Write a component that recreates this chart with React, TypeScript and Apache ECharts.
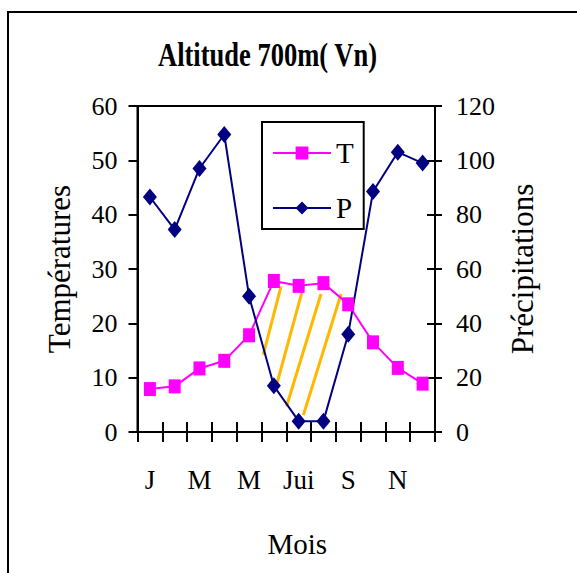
import React, { useEffect, useRef } from "react";
import * as echarts from "echarts";

const months = ["J", "F", "M", "A", "M", "J", "Jui", "A", "S", "O", "N", "D"];
const temperatures = [7.9, 8.4, 11.7, 13.1, 17.8, 27.8, 26.9, 27.4, 23.5, 16.5, 11.8, 8.9];
const precipitations = [86.5, 74.5, 97, 109.5, 50, 17, 4, 4, 36, 88.5, 103, 99];
// dry-season hatching: segments in (month position 0..12, temperature) coordinates
const hatchSegments = [
  [[5.07, 14.2], [5.79, 26.8]],
  [[5.54, 7.5], [6.69, 26.7]],
  [[6.01, 4.7], [7.4, 25.4]],
  [[6.69, 3.1], [8.21, 25.4]],
];
const titleText = "Altitude 700m( Vn)";

const FONT = "Liberation Serif";

export default function App() {
  const ref = useRef<HTMLDivElement>(null);
  useEffect(() => {
    if (!ref.current) return;
    const chart = echarts.init(ref.current, null, { renderer: "svg" });
    const axisLineStyle = { color: "#000", width: 2 };
    const option: any = {
      animation: false,
      backgroundColor: "#fff",
      textStyle: { fontFamily: FONT, color: "#000" },
      graphic: [
        {
          type: "rect",
          shape: { x: 8, y: 12, width: 600, height: 600 },
          style: { fill: "none", stroke: "#000", lineWidth: 2 },
          z: -1,
          silent: true,
        },
        {
          type: "text",
          x: 158,
          y: 38,
          scaleX: 0.78,
          scaleY: 1,
          style: {
            text: titleText,
            font: "bold 34px " + FONT,
            fill: "#000",
            textAlign: "left",
            verticalAlign: "top",
          },
          silent: true,
        },
      ],
      legend: {
        data: ["T", "P"],
        orient: "vertical",
        left: 262,
        top: 122,
        padding: [16, 10, 6, 10],
        itemWidth: 58,
        itemHeight: 16,
        itemGap: 25,
        borderColor: "#000",
        borderWidth: 2,
        textStyle: { fontFamily: FONT, fontSize: 29, color: "#000", lineHeight: 30 },
      },
      grid: {
        left: 137.5,
        right: 142,
        top: 106,
        bottom: 141,
        containLabel: false,
        show: true,
        borderColor: "#000",
        borderWidth: 2,
        backgroundColor: "transparent",
      },
      xAxis: [
        {
          type: "category",
          data: months,
          boundaryGap: true,
          name: "Mois",
          nameLocation: "middle",
          nameGap: 97,
          nameTextStyle: { fontFamily: FONT, fontSize: 29, color: "#000", padding: [0, 0, 0, 22] },
          axisLine: { lineStyle: axisLineStyle },
          axisTick: { show: true, interval: 0, length: 10, lineStyle: { color: "#000", width: 2 } },
          axisLabel: { interval: 1, margin: 34, fontFamily: FONT, fontSize: 27, color: "#000" },
          splitLine: { show: false },
        },
        {
          type: "category",
          data: months,
          boundaryGap: true,
          position: "bottom",
          axisLine: { show: false },
          axisTick: { show: true, inside: true, interval: 0, length: 10, lineStyle: { color: "#000", width: 2 } },
          axisLabel: { show: false },
          splitLine: { show: false },
        },
        {
          type: "value",
          min: 0,
          max: 12,
          show: false,
          splitLine: { show: false },
        },
      ],
      yAxis: [
        {
          type: "value",
          min: 0,
          max: 60,
          interval: 10,
          position: "left",
          name: "Températures",
          nameLocation: "middle",
          nameRotate: 90,
          nameGap: 63,
          nameTextStyle: { fontFamily: FONT, fontSize: 31, color: "#000" },
          axisLine: { show: true, lineStyle: axisLineStyle },
          axisTick: { show: true, length: 9, lineStyle: { color: "#000", width: 2 } },
          axisLabel: { margin: 20, fontFamily: FONT, fontSize: 26, color: "#000" },
          splitLine: { show: false },
        },
        {
          type: "value",
          min: 0,
          max: 120,
          interval: 20,
          position: "right",
          name: "Précipitations",
          nameLocation: "middle",
          nameRotate: 90,
          nameGap: 72,
          nameTextStyle: { fontFamily: FONT, fontSize: 31, color: "#000" },
          axisLine: { show: true, lineStyle: axisLineStyle },
          axisTick: { show: true, length: 7, lineStyle: { color: "#000", width: 2 } },
          axisLabel: { margin: 21, fontFamily: FONT, fontSize: 26, color: "#000" },
          splitLine: { show: false },
        },
        {
          type: "value",
          min: 0,
          max: 120,
          interval: 20,
          position: "right",
          axisLine: { show: false },
          axisTick: { show: true, inside: true, length: 8, lineStyle: { color: "#000", width: 2 } },
          axisLabel: { show: false },
          splitLine: { show: false },
        },
      ],
      series: [
        ...hatchSegments.map((seg, i) => ({
          name: "hatch" + i,
          type: "line",
          xAxisIndex: 2,
          yAxisIndex: 0,
          data: seg,
          symbol: "none",
          silent: true,
          lineStyle: { color: "#FFB800", width: 3 },
          z: 1,
        })),
        {
          name: "T",
          type: "line",
          xAxisIndex: 0,
          yAxisIndex: 0,
          data: temperatures,
          symbol: "rect",
          symbolSize: [12, 14],
          showAllSymbol: true,
          itemStyle: { color: "#FF00FF" },
          lineStyle: { color: "#FF00FF", width: 2 },
          z: 3,
        },
        {
          name: "P",
          type: "line",
          xAxisIndex: 0,
          yAxisIndex: 1,
          data: precipitations,
          symbol: "diamond",
          symbolSize: [14, 17],
          showAllSymbol: true,
          itemStyle: { color: "#000080" },
          lineStyle: { color: "#000080", width: 2 },
          z: 3,
        },
      ],
    };
    chart.setOption(option);
    return () => chart.dispose();
  }, []);
  return (
    <div
      ref={ref}
      style={{ position: "fixed", left: 0, top: 0, width: 577, height: 573, background: "#fff" }}
    />
  );
}
